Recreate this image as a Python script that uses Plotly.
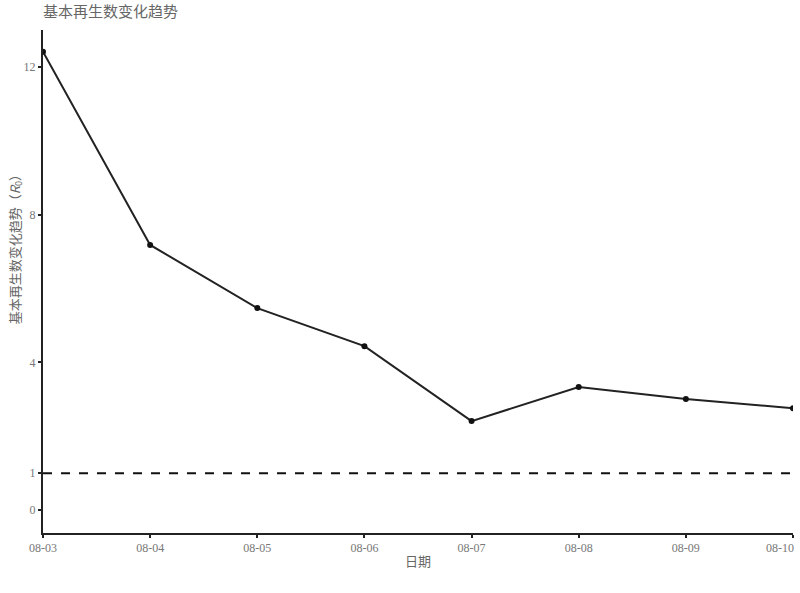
import plotly.graph_objects as go

dates = ["08-03", "08-04", "08-05", "08-06", "08-07", "08-08", "08-09", "08-10"]
r0_values = [12.41, 7.18, 5.47, 4.44, 2.41, 3.33, 3.01, 2.76]
threshold = 1
y_ticks = [0, 1, 4, 8, 12]

n = len(dates)
fig = go.Figure()
fig.add_trace(go.Scatter(
    x=list(range(n)), y=r0_values, mode="lines+markers",
    line=dict(color="#222222", width=2),
    marker=dict(color="#111111", size=6),
    showlegend=False,
))
fig.add_trace(go.Scatter(
    x=[0, n - 1], y=[threshold, threshold], mode="lines",
    line=dict(color="#111111", width=2, dash="dash"),
    showlegend=False, hoverinfo="skip",
))

tick_font = dict(family="Liberation Serif, serif", size=12, color="#777777")
title_font = dict(family="Noto Sans CJK SC", size=13, color="#666666")

# last tick label drawn right-aligned so it stays inside the page
fig.add_annotation(x=n - 1, y=0, xref="x", yref="paper", text=dates[-1],
                   showarrow=False, xanchor="right", yanchor="top",
                   xshift=3, yshift=-6, font=tick_font)
# y axis title
fig.add_annotation(x=0, y=0.57, xref="paper", yref="paper",
                   text="基本再生数变化趋势（<i>R</i><sub>0</sub>）",
                   textangle=-90, showarrow=False, xanchor="center", yanchor="middle",
                   xshift=-28, font=title_font)

fig.update_layout(
    width=800, height=593,
    margin=dict(l=43, r=7, t=30, b=60),
    plot_bgcolor="white", paper_bgcolor="white",
    title=dict(text="基本再生数变化趋势", x=0, xref="paper", xanchor="left",
               y=0.989, yanchor="top",
               font=dict(family="Noto Sans CJK SC", size=15, color="#666666")),
    xaxis=dict(
        tickmode="array", tickvals=list(range(n)), ticktext=dates[:-1] + [""],
        range=[0, n - 1], showgrid=False, zeroline=False, automargin=False,
        showline=True, linecolor="#222222", linewidth=2,
        ticks="outside", ticklen=3, tickwidth=1.5, tickcolor="#222222",
        tickfont=tick_font,
        title=dict(text="日期", font=title_font, standoff=2),
    ),
    yaxis=dict(
        tickmode="array", tickvals=y_ticks, ticktext=[str(v) for v in y_ticks],
        range=[-0.62, 13.0], showgrid=False, zeroline=False, automargin=False,
        showline=True, linecolor="#222222", linewidth=2,
        ticks="outside", ticklen=3, tickwidth=1.5, tickcolor="#222222",
        tickfont=tick_font,
    ),
)
fig.write_html("out.html", config={"displayModeBar": False},
               post_script="document.body.style.margin='0';")
